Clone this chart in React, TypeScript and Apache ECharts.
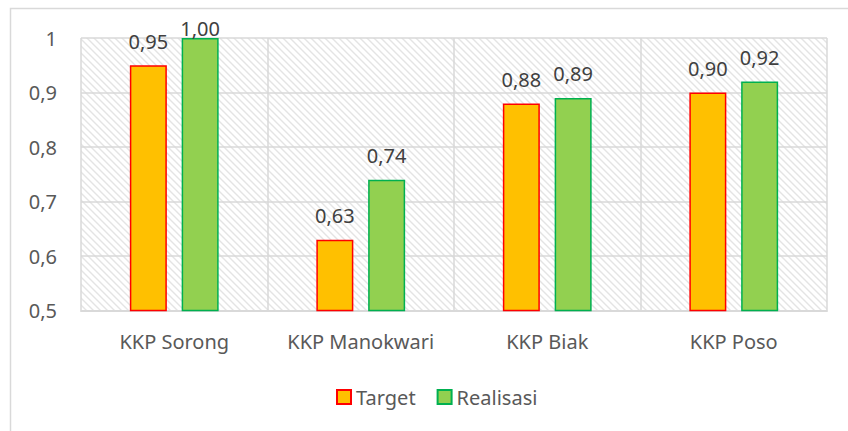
import React, { useEffect, useRef } from "react";
import * as echarts from "echarts";

const categories = ["KKP Sorong", "KKP Manokwari", "KKP Biak", "KKP Poso"];
const targetValues = [0.95, 0.63, 0.88, 0.9];
const realisasiValues = [1.0, 0.74, 0.89, 0.92];
const seriesNames = ["Target", "Realisasi"];

const FONT = "Noto Sans";
const FS = 20;
const Y_MAX = 1;

function makePattern() {
  const s = 7;
  const c = document.createElement("canvas");
  c.width = s;
  c.height = s;
  const ctx = c.getContext("2d")!;
  ctx.fillStyle = "#ffffff";
  ctx.fillRect(0, 0, s, s);
  ctx.strokeStyle = "#e4e4e4";
  ctx.lineWidth = 1.4;
  ctx.beginPath();
  ctx.moveTo(-1, -1);
  ctx.lineTo(s + 1, s + 1);
  ctx.moveTo(-1, s - 1);
  ctx.lineTo(1, s + 1);
  ctx.moveTo(s - 1, -1);
  ctx.lineTo(s + 1, 1);
  ctx.stroke();
  return { image: c.toDataURL(), repeat: "repeat", imageWidth: s, imageHeight: s };
}

const fmt2 = (v: number) => v.toFixed(2).replace(".", ",");
const fmtAxis = (v: number) => String(Math.round(v * 10) / 10).replace(".", ",");

// labels of bars reaching the top of the plot are pulled down (as in the original)
const withLabelFit = (arr: number[]) =>
  arr.map((v) => (v >= Y_MAX ? { value: v, label: { distance: 0 } } : v));

export default function App() {
  const ref = useRef<HTMLDivElement>(null);
  useEffect(() => {
    if (!ref.current) return;
    const chart = echarts.init(ref.current, null, { renderer: "svg" });
    const label = {
      show: true,
      position: "top",
      distance: 14,
      color: "#404040",
      fontSize: FS,
      fontFamily: FONT,
      formatter: (p: any) => fmt2(p.value),
    };
    chart.setOption({
      animation: false,
      backgroundColor: "#ffffff",
      textStyle: { fontFamily: FONT },
      graphic: [
        {
          type: "rect",
          shape: { x: 10.5, y: 8.5, width: 860, height: 440 },
          style: { fill: "none", stroke: "#d9d9d9", lineWidth: 1.5 },
          silent: true,
        },
      ],
      grid: {
        left: 81,
        right: 21,
        top: 38,
        bottom: 120.5,
        show: true,
        backgroundColor: makePattern(),
        borderWidth: 0,
      },
      legend: {
        data: seriesNames,
        left: 336,
        top: 387,
        padding: 0,
        itemWidth: 14,
        itemHeight: 14,
        itemGap: 21,
        icon: "rect",
        textStyle: { color: "#595959", fontSize: FS, fontFamily: FONT },
      },
      xAxis: {
        type: "category",
        data: categories,
        axisLine: { lineStyle: { color: "#d9d9d9", width: 2 } },
        axisTick: { show: false },
        splitLine: { show: true, interval: 0, lineStyle: { color: "#d9d9d9", width: 1.5 } },
        axisLabel: {
          color: "#595959",
          fontSize: FS,
          fontFamily: FONT,
          margin: 21,
          interval: 0,
          hideOverlap: false,
        },
      },
      yAxis: {
        type: "value",
        min: 0.5,
        max: Y_MAX,
        interval: 0.1,
        axisLine: { show: false },
        axisTick: { show: false },
        splitLine: { lineStyle: { color: "#d9d9d9", width: 1.5 } },
        axisLabel: {
          color: "#595959",
          fontSize: FS,
          fontFamily: FONT,
          margin: 24,
          formatter: fmtAxis,
        },
      },
      series: [
        {
          name: seriesNames[0],
          type: "bar",
          data: withLabelFit(targetValues),
          barWidth: 37,
          barGap: "40%",
          itemStyle: { color: "#FFC000", borderColor: "#FF0000", borderWidth: 1.5 },
          label,
        },
        {
          name: seriesNames[1],
          type: "bar",
          data: withLabelFit(realisasiValues),
          barWidth: 37,
          barGap: "40%",
          itemStyle: { color: "#92D050", borderColor: "#00B050", borderWidth: 1.5 },
          label,
        },
      ],
    });
    return () => chart.dispose();
  }, []);
  return (
    <div
      ref={ref}
      style={{ position: "fixed", left: 0, top: 0, width: 848, height: 431 }}
    />
  );
}
